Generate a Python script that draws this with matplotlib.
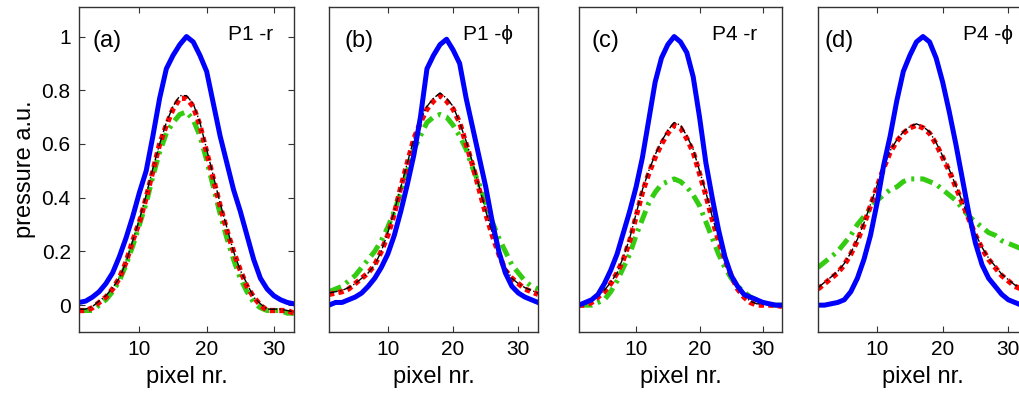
import matplotlib
matplotlib.use('Agg')
import matplotlib.pyplot as plt
import numpy as np

plt.rcParams['font.family'] = ['Liberation Sans', 'DejaVu Sans']
plt.rcParams['font.size'] = 15

# pixel index along the profile
pix = np.arange(1, 34)

panel_tags = ['(a)', '(b)', '(c)', '(d)']
panel_names = ['P1 -r', 'P1 -\u03d5', 'P4 -r', 'P4 -\u03d5']

# blue: solid reference profile
blue_a = [0.01, 0.015, 0.03, 0.05, 0.08, 0.12, 0.18, 0.25, 0.33, 0.42, 0.5, 0.63, 0.77, 0.88, 0.93, 0.97, 1.0,
          0.98, 0.93, 0.87, 0.75, 0.63, 0.53, 0.43, 0.35, 0.26, 0.17, 0.1, 0.06, 0.035, 0.02, 0.01, 0.005]
blue_b = [0.0, 0.01, 0.01, 0.02, 0.03, 0.045, 0.07, 0.1, 0.14, 0.19, 0.26, 0.35, 0.45, 0.56, 0.7, 0.88, 0.93,
          0.97, 0.99, 0.95, 0.9, 0.77, 0.66, 0.55, 0.44, 0.31, 0.2, 0.12, 0.07, 0.045, 0.03, 0.02, 0.01]
blue_c = [0.0, 0.01, 0.02, 0.04, 0.08, 0.13, 0.19, 0.27, 0.35, 0.44, 0.55, 0.69, 0.83, 0.92, 0.97, 1.0, 0.98,
          0.94, 0.85, 0.7, 0.53, 0.4, 0.28, 0.18, 0.11, 0.07, 0.04, 0.03, 0.02, 0.01, 0.005, 0.0, 0.0]
blue_d = [0.0, 0.0, 0.005, 0.01, 0.02, 0.05, 0.1, 0.17, 0.26, 0.38, 0.52, 0.63, 0.76, 0.87, 0.93, 0.98, 1.0,
          0.98, 0.92, 0.83, 0.72, 0.6, 0.47, 0.34, 0.23, 0.15, 0.1, 0.07, 0.04, 0.02, 0.01, 0.0, 0.0]

# red: thick dotted
red_a = [-0.02, -0.02, -0.01, 0.01, 0.03, 0.06, 0.1, 0.16, 0.24, 0.31, 0.4, 0.5, 0.6, 0.67, 0.73, 0.77, 0.77,
         0.74, 0.67, 0.57, 0.47, 0.37, 0.28, 0.2, 0.13, 0.07, 0.03, 0.0, -0.02, -0.02, -0.02, -0.02, -0.03]
red_b = [0.04, 0.045, 0.05, 0.06, 0.08, 0.1, 0.12, 0.15, 0.2, 0.26, 0.34, 0.44, 0.53, 0.62, 0.68, 0.73, 0.76,
         0.78, 0.76, 0.73, 0.68, 0.6, 0.52, 0.43, 0.34, 0.26, 0.19, 0.13, 0.1, 0.08, 0.06, 0.05, 0.04]
red_c = [0.0, 0.0, 0.01, 0.03, 0.05, 0.08, 0.12, 0.17, 0.24, 0.33, 0.42, 0.49, 0.55, 0.6, 0.64, 0.67, 0.66,
         0.62, 0.57, 0.49, 0.41, 0.32, 0.24, 0.17, 0.11, 0.06, 0.03, 0.01, 0.0, 0.0, 0.0, 0.0, -0.005]
red_d = [0.06, 0.08, 0.1, 0.12, 0.15, 0.19, 0.24, 0.3, 0.37, 0.44, 0.51, 0.57, 0.61, 0.64, 0.66, 0.67, 0.66,
         0.64, 0.6, 0.55, 0.5, 0.44, 0.38, 0.32, 0.26, 0.21, 0.17, 0.14, 0.11, 0.09, 0.07, 0.06, 0.05]

# black: thin dash-dot, almost on top of red
black_a = [-0.015, -0.015, -0.005, 0.015, 0.035, 0.065, 0.1, 0.16, 0.24, 0.32, 0.41, 0.51, 0.6, 0.68, 0.74, 0.78, 0.78,
           0.75, 0.68, 0.58, 0.48, 0.38, 0.29, 0.2, 0.13, 0.08, 0.03, 0.005, -0.015, -0.015, -0.015, -0.02, -0.025]
black_b = [0.045, 0.05, 0.055, 0.065, 0.08, 0.1, 0.12, 0.15, 0.2, 0.27, 0.35, 0.44, 0.53, 0.62, 0.69, 0.74, 0.77,
           0.79, 0.77, 0.74, 0.68, 0.61, 0.53, 0.44, 0.35, 0.27, 0.2, 0.14, 0.1, 0.08, 0.065, 0.055, 0.045]
black_c = [0.005, 0.005, 0.015, 0.035, 0.055, 0.085, 0.12, 0.18, 0.25, 0.34, 0.43, 0.5, 0.56, 0.61, 0.65, 0.68, 0.67,
           0.63, 0.58, 0.5, 0.42, 0.33, 0.25, 0.18, 0.12, 0.07, 0.035, 0.015, 0.005, 0.005, 0.0, 0.0, 0.0]
black_d = [0.065, 0.085, 0.105, 0.125, 0.155, 0.195, 0.245, 0.305, 0.375, 0.445, 0.515, 0.575, 0.615, 0.645, 0.665, 0.675, 0.665,
           0.645, 0.605, 0.555, 0.505, 0.445, 0.385, 0.325, 0.265, 0.215, 0.175, 0.145, 0.115, 0.095, 0.075, 0.065, 0.055]

# green: thick dash-dot
green_a = [-0.02, -0.02, -0.02, 0.0, 0.02, 0.05, 0.09, 0.15, 0.22, 0.3, 0.38, 0.48, 0.57, 0.64, 0.68, 0.71, 0.72,
           0.69, 0.63, 0.54, 0.44, 0.34, 0.25, 0.17, 0.1, 0.05, 0.01, -0.01, -0.02, -0.02, -0.02, -0.03, -0.03]
green_b = [0.05, 0.06, 0.07, 0.09, 0.11, 0.14, 0.17, 0.2, 0.24, 0.29, 0.35, 0.42, 0.5, 0.58, 0.63, 0.68, 0.7,
           0.71, 0.7, 0.67, 0.63, 0.58, 0.51, 0.45, 0.38, 0.31, 0.25, 0.2, 0.15, 0.12, 0.09, 0.07, 0.06]
green_c = [0.0, 0.0, 0.0, 0.01, 0.02, 0.05, 0.09, 0.14, 0.19, 0.26, 0.32, 0.38, 0.42, 0.45, 0.46, 0.47, 0.46,
           0.44, 0.41, 0.37, 0.31, 0.25, 0.19, 0.14, 0.1, 0.07, 0.05, 0.03, 0.02, 0.01, 0.0, 0.0, 0.0]
green_d = [0.14, 0.16, 0.18, 0.2, 0.23, 0.26, 0.3, 0.33, 0.36, 0.39, 0.41, 0.43, 0.44, 0.46, 0.47, 0.47, 0.47,
           0.46, 0.45, 0.43, 0.41, 0.39, 0.36, 0.33, 0.31, 0.29, 0.27, 0.26, 0.24, 0.23, 0.22, 0.21, 0.2]

blues = [blue_a, blue_b, blue_c, blue_d]
reds = [red_a, red_b, red_c, red_d]
blacks = [black_a, black_b, black_c, black_d]
greens = [green_a, green_b, green_c, green_d]

W, H = 1020, 396
fig = plt.figure(figsize=(W / 100, H / 100), dpi=100)

# axes boxes in pixels: left, width
boxes = [(79, 215), (329, 209), (579, 203), (818, 210)]
tag_off = [14, 16, 13, 7]      # px from left edge
name_off = [21, 25, 25, 15]    # px from right edge

for i, (left, width) in enumerate(boxes):
    ax = fig.add_axes([left / W, 64 / H, width / W, 325 / H])
    ax.plot(pix, greens[i], color='#33cc11', lw=3.6, ls=(0, (2.6, 1.2, 0.6, 1.2)))
    ax.plot(pix, reds[i], color='#ff0000', lw=3.8, ls=(0, (1.0, 0.8)))
    ax.plot(pix, blacks[i], color='k', lw=1.0, ls='-.')
    ax.plot(pix, blues[i], color='#0000ff', lw=3.6)

    ax.set_xlim(1, 33)
    ax.set_ylim(-0.1, 1.11)
    ax.set_xticks([10, 20, 30])
    ax.tick_params(direction='in', top=True, right=True, length=4, width=0.8, pad=6,
                   labelsize=15, color='#333333')
    if i == 0:
        ax.set_yticks([0, 0.2, 0.4, 0.6, 0.8, 1])
        ax.set_yticklabels(['0', '0.2', '0.4', '0.6', '0.8', '1'])
        ax.set_ylabel('pressure a.u.', fontsize=17, labelpad=4)
    else:
        ax.set_yticks([])
    ax.set_xlabel('pixel nr.', fontsize=17, labelpad=5)
    for s in ax.spines.values():
        s.set_linewidth(1.0)
        s.set_color('#333333')

    ax.text(tag_off[i] / width, 0.895, panel_tags[i], transform=ax.transAxes,
            ha='left', va='center', fontsize=17)
    ax.text(1 - name_off[i] / width, 0.914, panel_names[i], transform=ax.transAxes,
            ha='right', va='center', fontsize=15)

fig.savefig('out.png', dpi=100)
